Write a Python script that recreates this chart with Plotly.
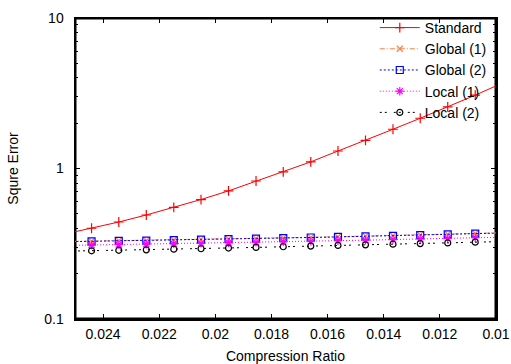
import plotly.graph_objects as go

ratio = [0.02539, 0.02441, 0.02344, 0.02246, 0.02148, 0.02051, 0.01953, 0.01855,
         0.01758, 0.01660, 0.01563, 0.01465, 0.01367, 0.01270, 0.01172, 0.01074, 0.00977]

standard = [0.366, 0.401, 0.441, 0.491, 0.551, 0.622, 0.710, 0.826, 0.951,
            1.107, 1.307, 1.537, 1.823, 2.157, 2.570, 3.070, 3.700]
global1 = [0.327, 0.329, 0.331, 0.333, 0.335, 0.338, 0.340, 0.343, 0.346,
           0.349, 0.352, 0.355, 0.358, 0.362, 0.366, 0.370, 0.374]
global2 = [0.326, 0.328, 0.330, 0.332, 0.334, 0.337, 0.339, 0.342, 0.345,
           0.348, 0.351, 0.354, 0.357, 0.361, 0.365, 0.369, 0.373]
local1 = [0.308, 0.310, 0.312, 0.314, 0.316, 0.318, 0.321, 0.323, 0.326,
          0.328, 0.331, 0.334, 0.337, 0.340, 0.343, 0.347, 0.350]
local2 = [0.282, 0.284, 0.286, 0.288, 0.291, 0.293, 0.296, 0.299, 0.302,
          0.305, 0.308, 0.311, 0.314, 0.317, 0.320, 0.324, 0.327]

x_range = [0.025, 0.01]
y_range = [0.1, 10]
x_ticks = [0.024, 0.022, 0.02, 0.018, 0.016, 0.014, 0.012, 0.01]
x_ticklabels = ["0.024", "0.022", "0.02", "0.018", "0.016", "0.014", "0.012", "0.01"]

series = [
    ("Standard", standard, "#ff0000", "solid", "cross-thin", 7),
    ("Global (1)", global1, "#ff7f3f", "5px,2px,1px,2px", "x-thin", 6),
    ("Global (2)", global2, "#0000ff", "2px,2px", "square-open", 7),
    ("Local (1)", local1, "#ff00ff", "1px,2px", "asterisk-open", 7),
    ("Local (2)", local2, "#000000", "2px,3px,2px,7px", "circle-open", 6),
]

FONT = "Liberation Sans, Arial, sans-serif"

fig = go.Figure()

# border of the plotting area, built from the axis ranges
fig.add_trace(go.Scatter(
    x=[x_range[0], x_range[1], x_range[1], x_range[0], x_range[0]],
    y=[y_range[0], y_range[0], y_range[1], y_range[1], y_range[0]],
    mode="lines", line=dict(color="#000000", width=3),
    showlegend=False, hoverinfo="skip",
))

for name, vals, color, dash, sym, size in series:
    fig.add_trace(go.Scatter(
        x=ratio, y=vals, name=name, mode="lines+markers",
        line=dict(color=color, width=1, dash=dash),
        marker=dict(symbol=sym, size=size, color=color,
                    line=dict(color=color, width=1.2)),
    ))

axis_common = dict(
    showline=True, linecolor="#000000", linewidth=1.5, mirror="allticks",
    ticks="inside", ticklen=5, tickwidth=1, tickcolor="#000000", showgrid=False,
    zeroline=False, automargin=False,
    tickfont=dict(family=FONT, size=14, color="black"),
)

fig.update_xaxes(
    range=x_range, tickmode="array", tickvals=x_ticks, ticktext=x_ticklabels,
    title=dict(text="Compression Ratio", font=dict(family=FONT, size=14, color="black"), standoff=10),
    ticklabelstandoff=2, **axis_common,
)
fig.update_yaxes(
    type="log", range=[-1, 1], tickmode="linear", tick0=0, dtick=1,
    minor=dict(ticks="inside", ticklen=3, tickwidth=1, tickcolor="#000000", dtick="D1", showgrid=False),
    title=dict(text="Squre Error", font=dict(family=FONT, size=14, color="black"), standoff=22),
    ticklabelstandoff=7, **axis_common,
)

fig.update_layout(
    width=511, height=364,
    margin=dict(l=75, r=15, t=15, b=45),
    plot_bgcolor="white", paper_bgcolor="white",
    font=dict(family=FONT, size=14, color="black"),
    legend=dict(x=0.99, y=1.02, xanchor="right", yanchor="top",
                bgcolor="rgba(0,0,0,0)", font=dict(size=14),
                tracegroupgap=0, itemwidth=40),
    showlegend=True,
)

fig.write_html("out.html", config={"displayModeBar": False, "staticPlot": True},
               post_script="document.body.style.margin='0';")
